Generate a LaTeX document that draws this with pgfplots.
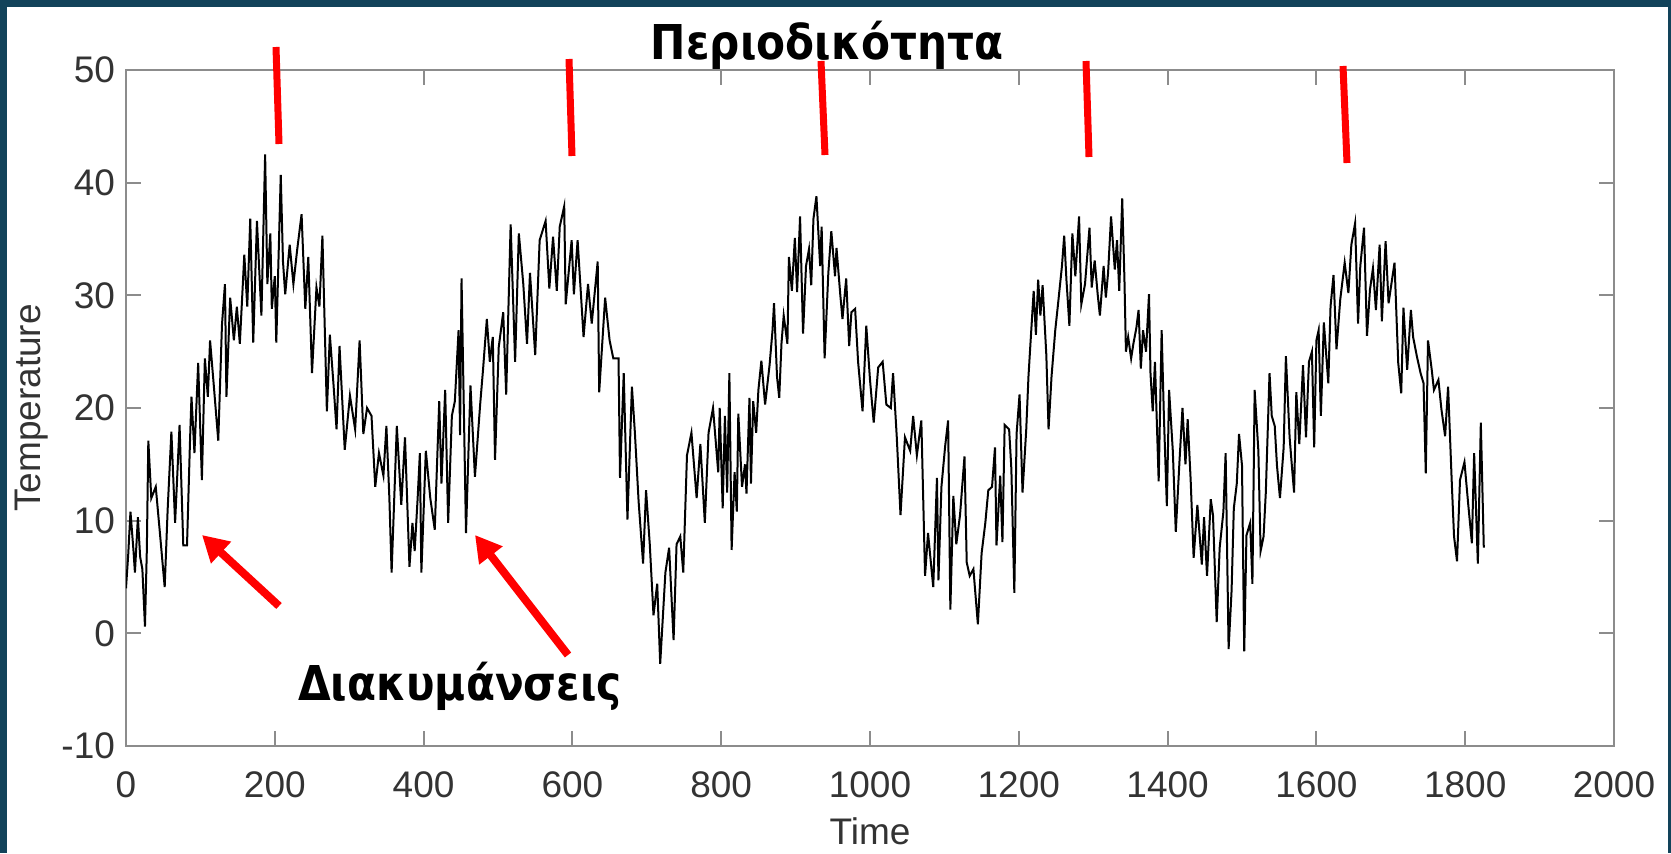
\documentclass[border=0pt]{standalone}
\usepackage{fontspec}
\setmainfont{Liberation Sans}
\newfontfamily\annfont{DejaVu Sans}
\usepackage{pgfplots}
\usepackage{pgfplotstable}
\pgfplotsset{compat=1.18}
\usetikzlibrary{arrows.meta}
\definecolor{bordercol}{HTML}{12435A}
\definecolor{axisgray}{HTML}{8C8C8C}
\definecolor{labelgray}{HTML}{333333}
\definecolor{annred}{HTML}{FF0000}
\begin{document}
\pgfplotstableread[row sep=\\]{
x y\\
0 4.0\\ 3 7.0\\ 6 10.8\\ 10 7.4\\ 12 5.4\\ 16 10.3\\ 19 6.8\\ 22 5.7\\ 25.5 0.6\\ 28 7.4\\ 30 17.1\\
34 12\\ 40 13\\ 46 8.6\\ 52 4.1\\ 56 11\\ 61 17.9\\ 66 9.8\\ 72 18.5\\ 77 7.8\\ 82 7.8\\ 86 17\\ 88 21\\ 92 16\\ 97 24\\
102 13.6\\ 106 24.4\\ 110 21\\ 113 26\\ 118 22\\ 124 17.1\\ 129 27.4\\ 133 31\\ 135 21\\ 140 29.8\\ 145 26\\ 149 29\\
153 25.7\\ 159 33.6\\ 163 29\\ 167 36.8\\ 171 25.8\\ 176 36.6\\ 182 28.2\\ 187 42.5\\ 190 31\\ 194 35.5\\ 196 28.8\\
200 31.7\\ 202 25.8\\ 208 40.7\\ 211 33\\ 214 30.1\\ 220 34.5\\ 225 31\\ 230 34\\ 236 37.2\\ 241 28.8\\ 245 33.4\\
250 23.1\\ 256 30.7\\ 260 29\\ 264 35.3\\ 270 19.7\\ 274 26.5\\ 279 22\\ 283 18.1\\ 287 25.5\\ 294 16.3\\ 301 21.1\\
308 18.1\\ 314 26\\ 319 17.7\\ 324 20\\ 330 19.3\\ 335 13\\ 340 16\\ 346 14\\ 350 18.4\\ 354 12\\ 357 5.4\\ 364 18.4\\
370 11.4\\ 375 17.4\\ 381 5.9\\ 385 9.8\\ 388 7.3\\ 392 12\\ 395 16\\ 397 5.4\\ 403 16.2\\ 409 12\\ 415 9.2\\
421 20.6\\ 424 13.3\\ 429 21.6\\ 433 9.8\\ 438 19.3\\ 442 20.6\\ 447 26.9\\ 449 17.6\\ 451 31.5\\ 457 8.9\\ 463 22\\
469 13.9\\ 476 20.3\\ 480 23.5\\ 485 27.9\\ 489 24.1\\ 493 26.3\\ 496 15.4\\ 501 25.4\\ 507 28.5\\ 511 21.2\\
514 28.8\\ 517 36.3\\ 523 24.1\\ 528 35.5\\ 534 31\\ 539 25.7\\ 543 32\\ 550 24.7\\ 556 34.9\\ 564 36.6\\ 569 30.6\\
574 35.2\\ 579 30.4\\ 583 36.1\\ 589 37.9\\ 591 29.2\\ 599 34.9\\ 602 30.1\\ 607 34.9\\ 615 26.3\\ 621 31\\ 626 27.5\\
634 33\\ 636 21.4\\ 644 29.8\\ 650 26\\ 655 24.4\\ 662 24.4\\ 664 13.8\\ 669 23.1\\ 674 10.1\\ 680 21.9\\ 684 17.8\\
689 11.7\\ 695 6.2\\ 699 12.7\\ 704 7.9\\ 709 1.6\\ 714 4.4\\ 718 -2.7\\ 725 5.4\\ 730 7.6\\ 736 -0.6\\ 740 7.9\\
745 8.6\\ 749 5.4\\ 754 15.8\\ 760 17.8\\ 767 12\\ 772 16.8\\ 778 9.8\\ 783 17.8\\ 789 20\\ 796 14.3\\ 798 20\\
802 11.1\\ 805 19.3\\ 808 12.5\\ 811 23.1\\ 814 7.4\\ 818 14.3\\ 821 10.8\\ 823 19.5\\ 828 13\\ 832 15\\ 834 12.4\\
838 20.9\\ 840 13.3\\ 843 20.6\\ 847 17.8\\ 850 21.6\\ 854 24.2\\ 859 20.3\\ 865 23.8\\ 869 26.9\\ 871 29.3\\
875 22.8\\ 878 20.9\\ 881 25.7\\ 884 28.2\\ 889 25.7\\ 891 33.4\\ 895 30.4\\ 899 35.1\\ 902 30.3\\ 906 37\\ 910 26.6\\
914 32.6\\ 918 34.1\\ 921 30.9\\ 924 36.8\\ 928 38.8\\ 933 32.6\\ 935 36.1\\ 939 24.4\\ 944 32\\ 948 35.7\\ 953 31.7\\
955 34.2\\ 960 30.1\\ 963 27.9\\ 968 31.5\\ 972 25.5\\ 975 28.5\\ 980 28.8\\ 984 24.1\\ 990 19.7\\ 995 27.3\\
1000 22.5\\ 1005 18.7\\ 1011 23.6\\ 1017 24.1\\ 1022 20.3\\ 1028 20\\ 1031 23.1\\ 1036 17.4\\ 1041 10.5\\ 1047 17.4\\
1054 16.2\\ 1058 19.3\\ 1063 15.8\\ 1069 18.9\\ 1074 5.1\\ 1078 8.9\\ 1085 4.1\\ 1090 13.8\\ 1092 4.7\\ 1096 13\\
1101 16.6\\ 1105 18.9\\ 1108 2.1\\ 1112 12.2\\ 1116 7.9\\ 1121 10.5\\ 1127 15.7\\ 1130 6.3\\ 1134 5.1\\ 1139 5.7\\
1145 0.8\\ 1150 7.1\\ 1155 9.8\\ 1159 12.7\\ 1164 13\\ 1168 16.5\\ 1170 7.8\\ 1175 14\\ 1178 8.1\\ 1181 18.5\\
1187 18.1\\ 1190 14.6\\ 1194 3.6\\ 1197 17.7\\ 1201 21.2\\ 1205 12.5\\ 1210 18.1\\ 1213 22.8\\ 1215 25\\ 1220 30.4\\
1223 26.5\\ 1226 31.4\\ 1229 28.2\\ 1232 30.9\\ 1237 24.7\\ 1240 18.1\\ 1244 22.8\\ 1249 26.9\\ 1253 29.4\\
1258 32.6\\ 1261 35.3\\ 1264 31.4\\ 1268 27.3\\ 1272 35.5\\ 1276 31.7\\ 1281 37\\ 1284 29.2\\ 1289 31\\ 1295 36\\
1298 30.7\\ 1302 33.1\\ 1306 30.1\\ 1309 28.2\\ 1314 32.6\\ 1317 29.8\\ 1320 32\\ 1324 37\\ 1329 32.3\\ 1332 34.9\\
1335 30.4\\ 1339 38.6\\ 1342 31.4\\ 1344 25\\ 1347 26.3\\ 1351 24.4\\ 1354 25.7\\ 1358 27.1\\ 1361 28.7\\ 1364 23.5\\
1367 26.9\\ 1371 25\\ 1375 30.1\\ 1377 23.1\\ 1380 19.7\\ 1383 24.1\\ 1388 13.5\\ 1392 26.9\\ 1395 19.3\\ 1399 11.3\\
1402 21.6\\ 1407 16.2\\ 1411 9\\ 1416 15.3\\ 1420 20\\ 1424 15\\ 1427 19\\ 1431 13.6\\ 1435 6.7\\ 1440 11.4\\
1446 6.1\\ 1449 10.3\\ 1453 5.1\\ 1458 11.9\\ 1461 10.5\\ 1466 1\\ 1470 7.6\\ 1475 10.8\\ 1478 16\\ 1482 -1.4\\
1486 3.8\\ 1489 11.1\\ 1493 13.3\\ 1496 17.7\\ 1500 14.9\\ 1503 -1.6\\ 1506 8.7\\ 1511 9.8\\ 1514 4.4\\ 1517 21.6\\
1522 16.2\\ 1525 7.3\\ 1529 8.6\\ 1532 12.5\\ 1537 23.1\\ 1540 19.3\\ 1544 18.4\\ 1547 14.9\\ 1551 12\\ 1556 16.5\\
1559 24.6\\ 1564 17.4\\ 1567 14.9\\ 1570 12.5\\ 1573 21.4\\ 1577 16.8\\ 1582 23.8\\ 1586 17.4\\ 1590 24.1\\ 1594 25\\
1597 16.5\\ 1600 26\\ 1603 26.9\\ 1606 19.3\\ 1610 27.6\\ 1616 22.2\\ 1619 29\\ 1623 31.8\\ 1627 25.2\\ 1632 29.6\\
1638 32.9\\ 1643 30.2\\ 1647 34.5\\ 1652 36.4\\ 1656 27.5\\ 1659 32.6\\ 1664 36\\ 1668 26.4\\ 1672 30.5\\ 1676 32.4\\
1680 28.7\\ 1685 34.5\\ 1688 27.7\\ 1693 34.8\\ 1697 29.3\\ 1701 31.1\\ 1705 32.9\\ 1708 27.5\\ 1710 24\\ 1714 21.3\\
1717 28.9\\ 1722 23.4\\ 1727 28.7\\ 1730 26.3\\ 1735 24.6\\ 1740 23.1\\ 1744 22.2\\ 1747 14.2\\ 1750 26\\ 1755 23.4\\
1758 21.6\\ 1764 22.5\\ 1768 19.9\\ 1773 17.5\\ 1777 21.9\\ 1782 13.3\\ 1785 8.6\\ 1789 6.4\\ 1793 13.6\\ 1799 15.2\\
1804 11.5\\ 1809 8\\ 1812 16\\ 1817 6.2\\ 1821 18.7\\ 1825 7.6\\
}\tempdata
\begin{tikzpicture}
\fill[bordercol] (0,0) rectangle (835.5pt,426.5pt);
\fill[white] (3.5pt,0) rectangle (834pt,423pt);
\begin{axis}[
  at={(63pt,53.5pt)}, anchor=south west,
  scale only axis, width=744pt, height=338pt,
  xmin=0, xmax=2000, ymin=-10, ymax=50,
  xtick={0,200,...,2000}, ytick={-10,0,...,50},
  tick align=inside, major tick length=7.5pt,
  axis line style={draw=axisgray, line width=1pt},
  tick style={draw=axisgray, line width=1pt},
  ticklabel style={font=\fontsize{18.5}{22}\selectfont, text=labelgray},
  /pgf/number format/assume math mode=true,
  /pgf/number format/1000 sep={},
  xticklabel style={yshift=-9.5pt},
  yticklabel style={xshift=-2pt},
  xlabel={Time}, ylabel={Temperature},
  label style={font=\fontsize{18.5}{22}\selectfont, text=labelgray},
  xlabel style={at={(axis description cs:0.5,-0.145)}, anchor=base},
  ylabel style={at={(axis description cs:-0.0632,0.5)}, anchor=center},
]
\addplot[black, line width=1pt, no markers] table[x=x, y=y] {\tempdata};
\end{axis}
\begin{scope}[annred, line width=3.5pt]
\draw (138pt,403pt) -- (139.5pt,354.5pt);
\draw (284.5pt,397pt) -- (286pt,348.5pt);
\draw (410.5pt,396pt) -- (412.5pt,349pt);
\draw (543pt,396pt) -- (544.5pt,348pt);
\draw (671.5pt,393.5pt) -- (673.5pt,345pt);
\end{scope}
\begin{scope}[annred, line width=4pt, -{Triangle[length=13pt,width=14pt]}]
\draw (139.5pt,123.5pt) -- (101pt,159pt);
\draw (284pt,99pt) -- (237.5pt,159pt);
\end{scope}
\node[anchor=base, font=\annfont\bfseries\fontsize{24}{28}\selectfont] at (413.5pt,396.5pt) {\scalebox{0.88}[1]{Περιοδικότητα}};
\node[anchor=base, font=\annfont\bfseries\fontsize{24}{28}\selectfont] at (230pt,76.5pt) {\scalebox{0.88}[1]{Διακυμάνσεις}};
\pgfresetboundingbox
\useasboundingbox (0,0) rectangle (835.5pt,426.5pt);
\end{tikzpicture}
\end{document}
